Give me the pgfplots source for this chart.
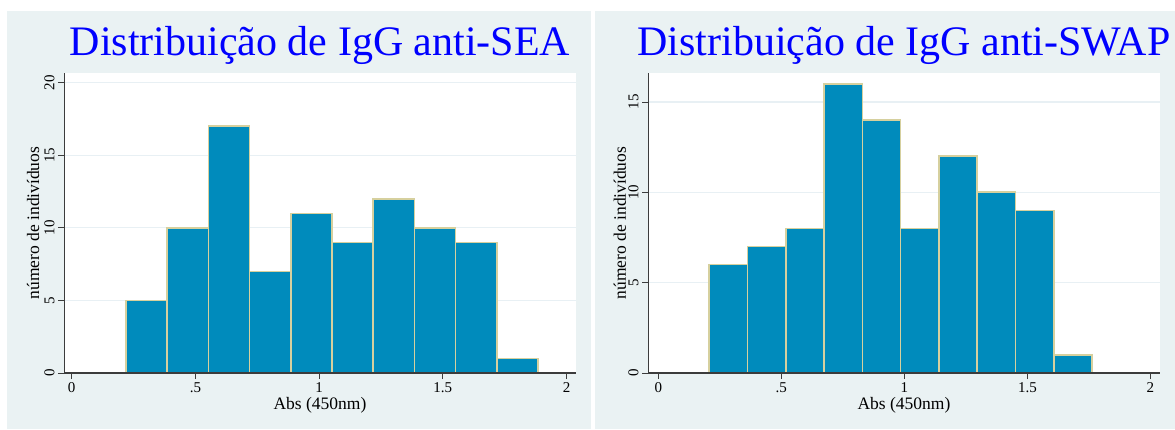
\documentclass[border=0pt]{standalone}
\usepackage{fontspec}
\setmainfont{Liberation Serif}
\usepackage{pgfplots}
\pgfplotsset{compat=1.18}
\definecolor{bg}{RGB}{234,242,243}
\definecolor{barfill}{RGB}{0,139,188}
\definecolor{barline}{RGB}{214,208,158}
\definecolor{gridc}{RGB}{232,240,244}
\definecolor{axc}{RGB}{60,60,60}

\pgfplotsset{
  hist/.style={
    scale only axis, width=512pt, height=300pt,
    anchor=south west,
    axis lines*=left,
    axis background/.style={fill=white},
    ymin=0, ymajorgrids, grid style={gridc, line width=1.2pt},
    tick align=outside, major tick length=6pt,
    tick style={axc, line width=0.8pt},
    xtick={0,0.5,1,1.5,2}, xticklabels={0,.5,1,1.5,2},
    tick label style={font=\fontsize{15}{15}\selectfont},
    yticklabel style={rotate=90, anchor=south},
    /pgf/number format/assume math mode=true,
    x axis line style={axc, line width=1pt},
    y axis line style={axc, line width=1pt},
    xlabel={Abs (450nm)}, ylabel={número de indivíduos},
    label style={font=\fontsize{17.5}{17.5}\selectfont},
    xlabel style={at={(axis description cs:0.5,-0.1067)}, anchor=center},
    title style={font=\fontsize{42}{42}\selectfont, text=blue,
      at={(axis description cs:0.5,1.0367)}, anchor=base},
  },
  bars/.style={ybar interval, fill=barfill, draw=barline, line width=1.7pt},
}

\begin{document}
\begin{tikzpicture}
\path[use as bounding box] (0pt,0pt) rectangle (1175pt,429pt);
\fill[white] (0pt,0pt) rectangle (1175pt,429pt);
\fill[bg] (7pt,0pt) rectangle (591pt,418pt);
\fill[bg] (595pt,0pt) rectangle (1175pt,418pt);

\begin{axis}[hist, at={(64pt,56pt)},
  xmin=-0.031, xmax=2.038, ymax=20.67,
  ytick={0,5,10,15,20},
  ylabel style={at={(axis description cs:-0.0605,0.5)}, anchor=center},
  title={Distribuição de IgG anti-SEA}]
\addplot[bars] coordinates {
(0.2200,5) (0.3864,10) (0.5528,17) (0.7192,7) (0.8856,11)
(1.0520,9) (1.2184,12) (1.3848,10) (1.5512,9) (1.7176,1) (1.8840,1)};
\draw[axc, line width=1.2pt] (rel axis cs:0,0) -- (rel axis cs:1,0);
\end{axis}

\begin{axis}[hist, at={(648pt,56pt)},
  xmin=-0.042, xmax=2.039, ymax=16.6,
  ytick={0,5,10,15},
  ylabel style={at={(axis description cs:-0.0547,0.5)}, anchor=center},
  title={Distribuição de IgG anti-SWAP}]
\addplot[bars] coordinates {
(0.2073,6) (0.3628,7) (0.5183,8) (0.6738,16) (0.8293,14)
(0.9848,8) (1.1403,12) (1.2958,10) (1.4513,9) (1.6068,1) (1.7623,1)};
\draw[axc, line width=1.2pt] (rel axis cs:0,0) -- (rel axis cs:1,0);
\end{axis}
\end{tikzpicture}
\end{document}
